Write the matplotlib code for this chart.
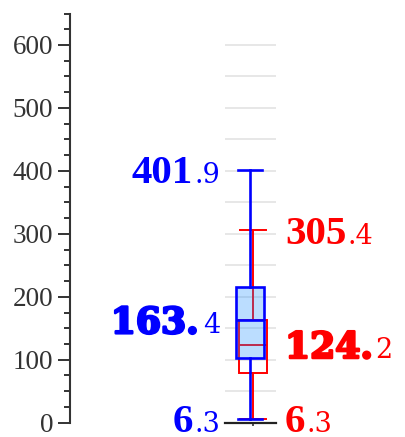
import matplotlib
matplotlib.use('Agg')
import matplotlib.pyplot as plt
import matplotlib.transforms as mtransforms
import matplotlib.patheffects as pe
from matplotlib.ticker import MultipleLocator

# ---- data ----
series = ['left', 'right']
colors = ['#0000ff', '#ff0000']
positions = [-0.01, 0.05]
whislo = [6.3, 6.3]
q1 = [103.0, 78.5]
med = [163.4, 124.2]
q3 = [215.0, 163.0]
whishi = [401.9, 305.4]
ytick_vals = [0, 100, 200, 300, 400, 500, 600]
grid_vals = [50, 100, 150, 200, 250, 300, 350, 400, 450, 500, 550, 600]

W, H = 405, 437
fig = plt.figure(figsize=(W / 100, H / 100), dpi=100)
ax = fig.add_axes([225 / W, 14.3 / H, 51 / W, 409.2 / H])
ax.set_xlim(-0.5, 0.5)
ax.set_ylim(0, 650)

# spines / ticks
for s in ['top', 'right']:
    ax.spines[s].set_visible(False)
ax.spines['left'].set_position(('axes', (70 - 225) / 51))
ax.spines['left'].set_color('#333333')
ax.spines['left'].set_linewidth(1.5)
ax.spines['bottom'].set_color('#222222')
ax.spines['bottom'].set_linewidth(1.6)
ax.spines['bottom'].set_zorder(5)
ax.set_yticks(ytick_vals)
ax.yaxis.set_minor_locator(MultipleLocator(25))
ax.tick_params(axis='y', which='major', length=8.5, width=1.4, color='#333333',
               pad=3.5, labelsize=19.5, labelcolor='#333333')
ax.tick_params(axis='y', which='minor', length=4.5, width=1.4, color='#333333')
for lab in ax.get_yticklabels():
    lab.set_family('Liberation Serif')
ax.set_xticks([0.045])
ax.set_xticklabels([''])
ax.tick_params(axis='x', length=2.5, width=1.2, color='#333333')

ax.hlines(grid_vals, -0.5, 0.5, color='#e3e3e3', lw=1.2, zorder=0)

stats = [dict(whislo=whislo[i], q1=q1[i], med=med[i], q3=q3[i], whishi=whishi[i],
              fliers=[]) for i in range(len(series))]

# right (red) series drawn first, unfilled
c = colors[1]
ax.bxp([stats[1]], positions=[positions[1]], widths=0.55, capwidths=0.5,
       patch_artist=True, showfliers=False, manage_ticks=False, zorder=2,
       boxprops=dict(facecolor='none', edgecolor=c, lw=1.4),
       whiskerprops=dict(color=c, lw=1.4), capprops=dict(color=c, lw=1.4),
       medianprops=dict(color=c, lw=1.4))
# left (blue) series, translucent fill
c = colors[0]
ax.bxp([stats[0]], positions=[positions[0]], widths=0.55, capwidths=0.46,
       patch_artist=True, showfliers=False, manage_ticks=False, zorder=3,
       boxprops=dict(facecolor=(0.118, 0.565, 1.0, 0.3), edgecolor=c, lw=1.9),
       whiskerprops=dict(color=c, lw=1.9), capprops=dict(color=c, lw=1.9),
       medianprops=dict(color=c, lw=1.9))

# ---- value labels ----
trans = mtransforms.blended_transform_factory(fig.transFigure, ax.transData)
fig.canvas.draw()
renderer = fig.canvas.get_renderer()

big_norm = dict(family='Liberation Serif', weight='bold', size=29.5)
big_heavy = dict(family='DejaVu Serif', weight='bold', size=26)
small = dict(family='DejaVu Serif', size=19.5)


def put_label(val, side, color, heavy):
    ip, dp = f'{val:.1f}'.split('.')
    if heavy:
        a, b, fa = ip + '.', dp, big_heavy
        gap = 4 if side == 'left' else 2
    else:
        a, b, fa, gap = ip, '.' + dp, big_norm, 1
    tr = mtransforms.offset_copy(trans, fig=fig, y=-13.5, units='dots')
    effects = [pe.withStroke(linewidth=1.8, foreground=color)] if heavy else None
    if side == 'left':
        tb = fig.text(220 / W, val, b, transform=tr, ha='right', va='baseline',
                      color=color, **small)
        bb = tb.get_window_extent(renderer)
        ta = fig.text((bb.x0 - gap) / W, val, a, transform=tr, ha='right',
                      va='baseline', color=color, **fa)
    else:
        ta = fig.text(285 / W, val, a, transform=tr, ha='left', va='baseline',
                      color=color, **fa)
        bb = ta.get_window_extent(renderer)
        tb = fig.text((bb.x1 + gap) / W, val, b, transform=tr, ha='left',
                      va='baseline', color=color, **small)
    if effects:
        ta.set_path_effects(effects)


for v, hv in [(whishi[0], False), (med[0], True), (whislo[0], False)]:
    put_label(v, 'left', colors[0], hv)
for v, hv in [(whishi[1], False), (med[1], True), (whislo[1], False)]:
    put_label(v, 'right', colors[1], hv)

fig.savefig('out.png', dpi=100)
